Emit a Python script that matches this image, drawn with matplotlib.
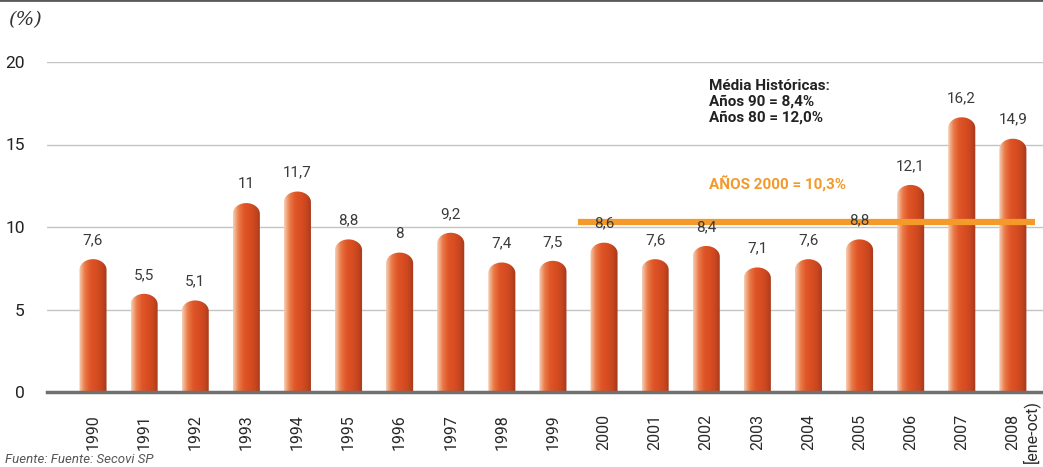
import numpy as np
import matplotlib.pyplot as plt
from matplotlib.colors import LinearSegmentedColormap
from matplotlib.path import Path
from matplotlib.patches import PathPatch
from matplotlib.lines import Line2D

years = ['1990', '1991', '1992', '1993', '1994', '1995', '1996', '1997', '1998', '1999',
         '2000', '2001', '2002', '2003', '2004', '2005', '2006', '2007', '2008']
values = [7.6, 5.5, 5.1, 11, 11.7, 8.8, 8, 9.2, 7.4, 7.5,
          8.6, 7.6, 8.4, 7.1, 7.6, 8.8, 12.1, 16.2, 14.9]
value_labels = ['7,6', '5,5', '5,1', '11', '11,7', '8,8', '8', '9,2', '7,4', '7,5',
                '8,6', '7,6', '8,4', '7,1', '7,6', '8,8', '12,1', '16,2', '14,9']
avg_2000 = 10.3
avg_text = 'AÑOS 2000 = 10,3%'
hist_text = 'Média Históricas:\nAños 90 = 8,4%\nAños 80 = 12,0%'

plt.rcParams['font.family'] = ['Roboto', 'DejaVu Sans']

bar_cmap = LinearSegmentedColormap.from_list(
    'bar', ['#f6cdb2', '#ea7a48', '#df5527', '#d84e22', '#c8461f', '#a63a1c'])
grad = np.linspace(0, 1, 64).reshape(1, -1)

fig = plt.figure(figsize=(10.43, 4.67), dpi=100)
ax = fig.add_axes([47 / 1043, 1 - 392 / 467, 1 - 47 / 1043, 330 / 467])

x = np.arange(len(years))
w = 0.53
cap = 0.65
for xi, v in zip(x, values):
    top = v - 0.2
    l, r = xi - w / 2, xi + w / 2
    t = np.linspace(np.pi, 0, 40)
    verts = [(l, 0), (l, top)] + [(xi + w / 2 * np.cos(a), top + cap * np.sin(a)) for a in t] + [(r, 0), (l, 0)]
    codes = [Path.MOVETO] + [Path.LINETO] * (len(verts) - 2) + [Path.CLOSEPOLY]
    patch = PathPatch(Path(verts, codes), facecolor='none', edgecolor='none')
    ax.add_patch(patch)
    im = ax.imshow(grad, cmap=bar_cmap, extent=[l, r, 0, top + cap], aspect='auto', zorder=3)
    im.set_clip_path(patch)

for xi, v, lab in zip(x, values, value_labels):
    ax.text(xi, v + 1.6, lab, ha='center', va='center', fontsize=11,
            color='#3a3a3a', zorder=5)

ax.plot([9.5, 18.43], [avg_2000, avg_2000], color='#f39a2b', lw=4.5, zorder=4, solid_capstyle='butt')
ax.text(12.05, 12.6, avg_text, color='#f39a2b', fontsize=11, fontweight='bold', ha='left', va='center')
ax.text(12.05, 18.95, hist_text, color='#222222', fontsize=11, fontweight='bold', ha='left', va='top',
        linespacing=1.15)

ax.set_xlim(-0.9, 18.59)
ax.set_ylim(0, 20)
ax.set_yticks([0, 5, 10, 15, 20])
ax.set_yticklabels(['0', '5', '10', '15', '20'], fontsize=12.5, color='#222222')
ax.set_xticks(x)
ax.set_xticklabels(years, rotation=90, fontsize=11.5, color='#2a2a2a')
ax.tick_params(axis='y', length=0, pad=16)
ax.tick_params(axis='x', length=0, pad=16)
ax.text(18.36, -0.5, '[ene-oct)', rotation=90, ha='center', va='top', fontsize=11.5,
        color='#2a2a2a')

ax.grid(axis='y', color='#c4c4c4', lw=1)
ax.set_axisbelow(True)
for s in ['top', 'right', 'left']:
    ax.spines[s].set_visible(False)
ax.spines['bottom'].set_color('#707070')
ax.spines['bottom'].set_linewidth(2.5)
ax.spines['bottom'].set_zorder(6)

fig.add_artist(Line2D([0, 1], [0.999, 0.999], color='#5a5a5a', lw=2))
fig.text(8 / 1043, 1 - 20 / 467, '(%)', family='DejaVu Serif', style='italic', fontsize=14,
         color='#333333', va='center', ha='left')
fig.text(5 / 1043, 1 - 466 / 467, 'Fuente: Fuente: Secovi SP', style='italic', fontsize=9.5,
         color='#555555', va='bottom', ha='left')

fig.savefig('out.png', dpi=100)
